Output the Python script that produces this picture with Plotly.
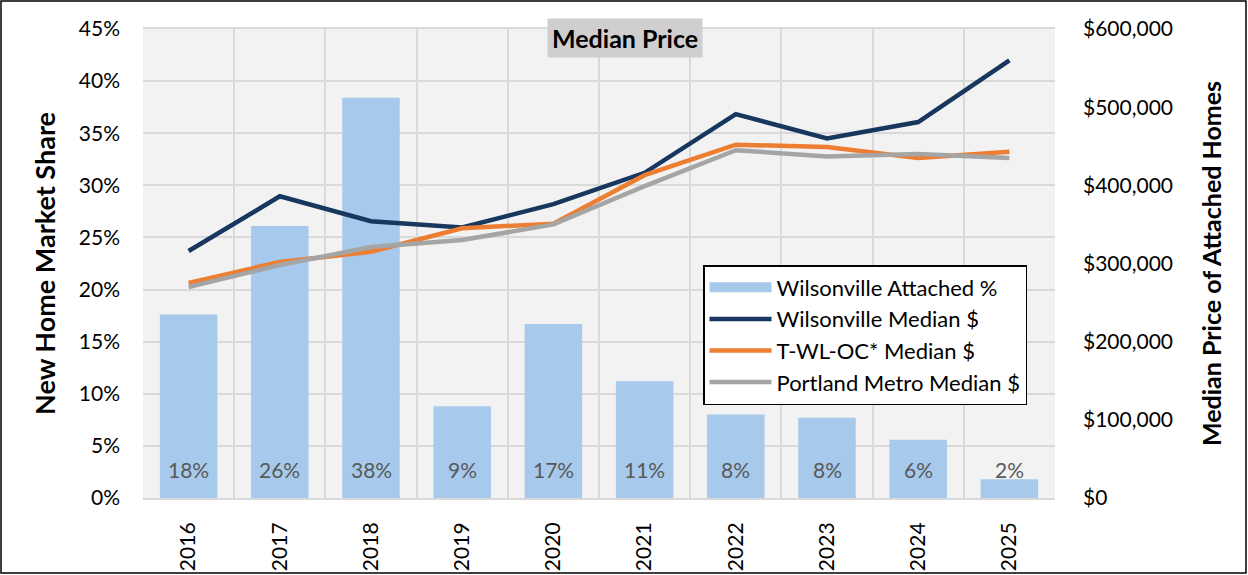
import plotly.graph_objects as go

years = ['2016', '2017', '2018', '2019', '2020', '2021', '2022', '2023', '2024', '2025']
attached_share = [0.176, 0.261, 0.384, 0.088, 0.167, 0.112, 0.080, 0.077, 0.056, 0.018]
share_labels = ['18%', '26%', '38%', '9%', '17%', '11%', '8%', '8%', '6%', '2%']
wilsonville_median = [316000, 386000, 354000, 346000, 376000, 416000, 491000, 460000, 481000, 560000]
twloc_median = [275000, 302000, 315000, 345000, 351000, 413000, 452000, 449000, 435000, 443000]
portland_median = [270000, 298000, 321000, 330000, 350000, 399000, 445000, 437000, 440000, 435000]

FONT = 'Lato, sans-serif'
W, H = 1248, 575
L, R, T, B = 143, 193, 29, 77
BAR_COLOR = '#a7c9eb'

fig = go.Figure()

fig.add_trace(go.Bar(
    x=years, y=attached_share, name='Wilsonville Attached %',
    marker=dict(color=BAR_COLOR, line=dict(width=0)),
    width=0.63, yaxis='y', showlegend=False,
))
# legend-only entry so the bar swatch is drawn as a wide block like Excel
fig.add_trace(go.Scatter(
    x=[None], y=[None], name='Wilsonville Attached %', mode='lines',
    line=dict(color=BAR_COLOR, width=13), yaxis='y',
))
fig.add_trace(go.Scatter(
    x=years, y=wilsonville_median, name='Wilsonville Median $', mode='lines',
    line=dict(color='#17375e', width=4.5), yaxis='y2',
))
fig.add_trace(go.Scatter(
    x=years, y=twloc_median, name='T-WL-OC* Median $', mode='lines',
    line=dict(color='#ed7d31', width=4.5), yaxis='y2',
))
fig.add_trace(go.Scatter(
    x=years, y=portland_median, name='Portland Metro Median $', mode='lines',
    line=dict(color='#a5a5a5', width=4.5), yaxis='y2',
))

# percentage labels sitting near the bottom of each bar
for i, lab in enumerate(share_labels):
    fig.add_annotation(x=i, y=0.027, text=lab, showarrow=False, xref='x', yref='y',
                       font=dict(size=21, color='#595959', family=FONT))

pw = W - L - R
ph = H - T - B

fig.add_annotation(
    x=(625 - L) / pw, y=(H - B - 38) / ph, xref='paper', yref='paper',
    xanchor='center', yanchor='middle',
    text='<b>Median Price</b>', showarrow=False, bgcolor='#d0cece',
    font=dict(size=25, color='black', family=FONT), borderpad=4,
)

fig.add_shape(type='rect', xref='paper', yref='paper',
              x0=(1 - L) / pw, x1=(W - 2 - L) / pw,
              y0=-(B - 2) / ph, y1=(H - B - 1) / ph,
              line=dict(color='black', width=1.5), fillcolor='rgba(0,0,0,0)', layer='below')

fig.update_layout(
    width=W, height=H,
    margin=dict(l=L, r=R, t=T, b=B, autoexpand=False),
    paper_bgcolor='white', plot_bgcolor='#f2f2f2',
    font=dict(family=FONT, size=21, color='black'),
    xaxis=dict(
        type='category', range=[-0.5, 9.5], tickson='boundaries', tickangle=-90,
        showgrid=True, gridcolor='#d9d9d9', gridwidth=2,
        showline=True, linecolor='#d9d9d9', linewidth=2, mirror=True,
        ticks='', tickfont=dict(size=21), ticklabelstandoff=14, automargin=False,
    ),
    yaxis=dict(
        range=[0, 0.45], dtick=0.05, tickformat='.0%',
        showgrid=True, gridcolor='#d9d9d9', gridwidth=2, zeroline=False,
        title=dict(text='<b>New Home Market Share</b>', font=dict(size=27), standoff=15),
        ticks='', tickfont=dict(size=21), ticklabelstandoff=22, automargin=False,
    ),
    yaxis2=dict(
        range=[0, 600000], dtick=100000, tickprefix='$', tickformat=',.0f',
        overlaying='y', side='right', showgrid=False, zeroline=False,
        title=dict(text='<b>Median Price of Attached Homes</b>', font=dict(size=25), standoff=31),
        ticks='', tickfont=dict(size=21), ticklabelstandoff=27, automargin=False,
    ),
    legend=dict(
        x=(703 - L) / pw, y=(H - B - 265) / ph, xanchor='left', yanchor='top',
        bgcolor='white', bordercolor='black', borderwidth=1.5,
        font=dict(size=22), tracegroupgap=0, itemwidth=62,
    ),
    showlegend=True,
)

fig.write_html('out.html', config={'displayModeBar': False},
               post_script="document.body.style.margin='0';")
